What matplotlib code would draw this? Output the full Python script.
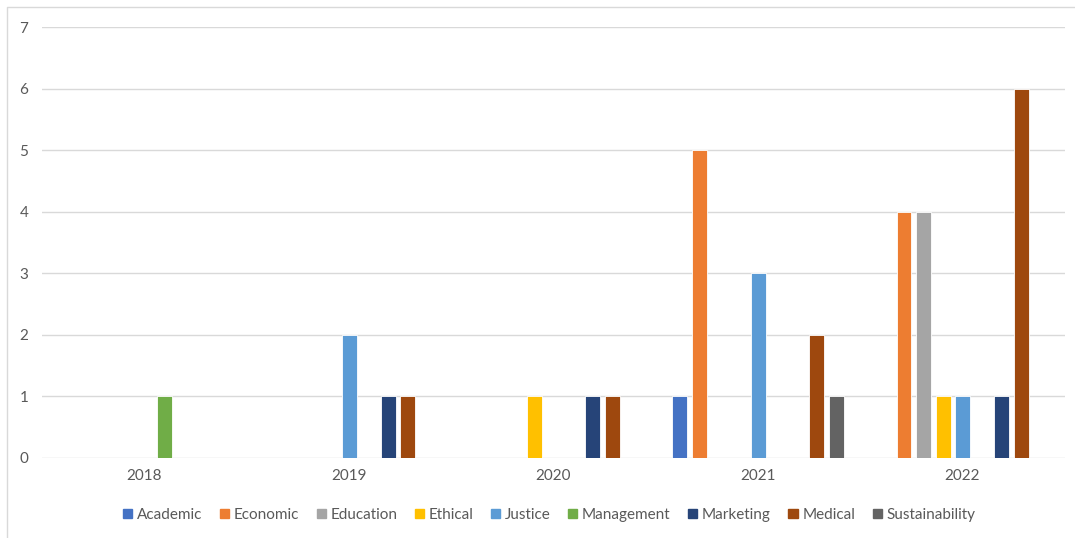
import numpy as np
import matplotlib.pyplot as plt
from matplotlib.lines import Line2D

years = ["2018", "2019", "2020", "2021", "2022"]
series = ["Academic", "Economic", "Education", "Ethical", "Justice",
          "Management", "Marketing", "Medical", "Sustainability"]
academic = [0, 0, 0, 1, 0]
economic = [0, 0, 0, 5, 4]
education = [0, 0, 0, 0, 4]
ethical = [0, 0, 1, 0, 1]
justice = [0, 2, 0, 3, 1]
management = [1, 0, 0, 0, 0]
marketing = [0, 1, 1, 0, 1]
medical = [0, 1, 1, 2, 6]
sustainability = [0, 0, 0, 1, 0]
values = [academic, economic, education, ethical, justice,
          management, marketing, medical, sustainability]
colors = ["#4472C4", "#ED7D31", "#A5A5A5", "#FFC000", "#5B9BD5",
          "#70AD47", "#264478", "#9E480E", "#636363"]

plt.rcParams['font.family'] = ['Lato', 'DejaVu Sans']
TXT = "#595959"

fig = plt.figure(figsize=(10.75, 5.38), dpi=100)
ax = fig.add_axes([0.0393, 0.1487, 0.9512, 0.801])

x = np.arange(len(years))
step = 0.0954
width = 0.0733
for i, (name, vals, c) in enumerate(zip(series, values, colors)):
    vals = np.array(vals, dtype=float)
    keep = vals > 0
    ax.bar(x[keep] + (i - 4) * step, vals[keep], width=width, color=c,
           edgecolor="white", linewidth=0.6, label=name, zorder=3)

ax.set_xlim(-0.5, 4.5)
ax.set_ylim(0, 7)
ax.set_yticks(range(8))
ax.set_xticks(x)
ax.set_xticklabels(years)
ax.grid(axis="y", color="#D9D9D9", linewidth=1.0, zorder=0)
for s in ax.spines.values():
    s.set_visible(False)
ax.tick_params(length=0, colors=TXT, labelsize=11)
ax.tick_params(axis="y", pad=10)
ax.tick_params(axis="x", pad=8)

handles = [plt.Rectangle((0, 0), 1, 1, color=c) for c in colors]
fig.legend(handles, series, loc="center", bbox_to_anchor=(0.511, 0.043),
           ncol=9, frameon=False, fontsize=11, labelcolor=TXT,
           handlelength=0.6, handleheight=0.6, handletextpad=0.3,
           columnspacing=1.15)

# chart border (only the top and left edges fall inside the image)
bx, by = 7 / 1075, 1 - 7 / 538
fig.add_artist(Line2D([bx, bx, 1.0], [0.0, by, by], color="#D9D9D9",
                      linewidth=1.0, transform=fig.transFigure))

fig.savefig("out.png", dpi=100)
